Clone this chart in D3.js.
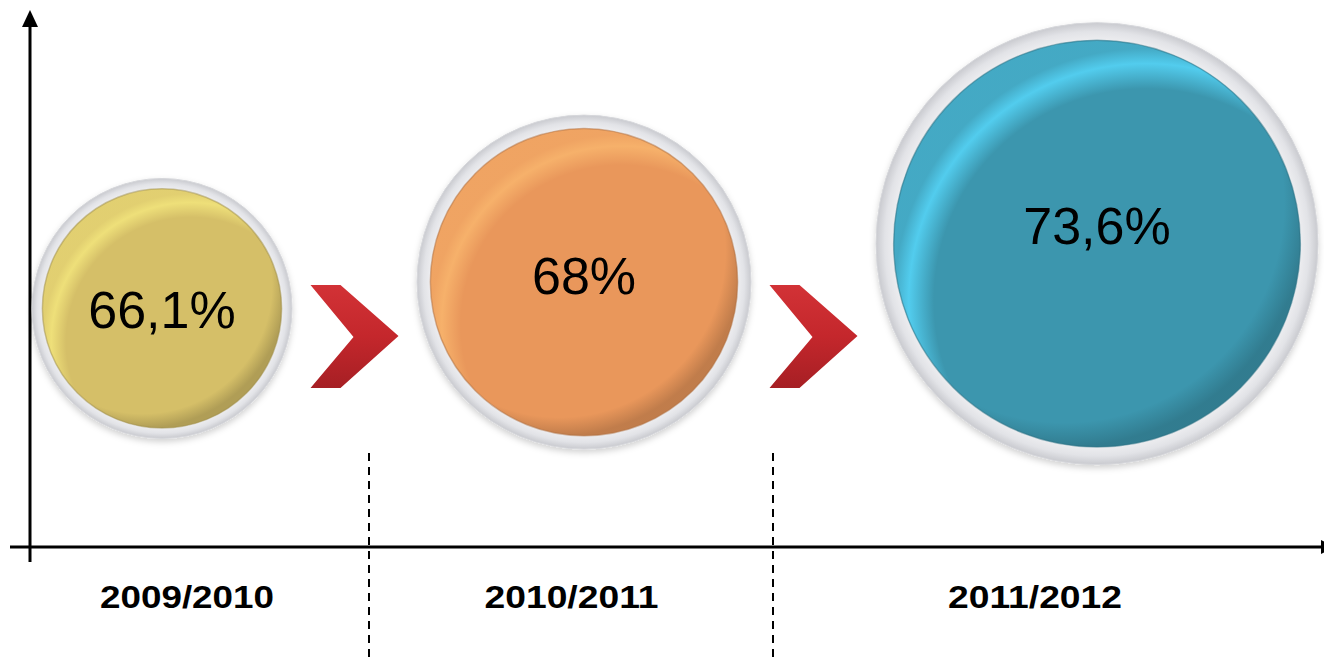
<!DOCTYPE html>
<html>
<head>
<meta charset="utf-8">
<script src="https://cdnjs.cloudflare.com/ajax/libs/d3/7.8.5/d3.min.js"></script>
<style>
  html, body { margin: 0; padding: 0; background: #fff; }
  svg { display: block; }
</style>
</head>
<body>
<div id="chart"></div>
<script>
// data
const periods = ["2009/2010", "2010/2011", "2011/2012"];
const rates = [66.1, 68, 73.6];
const rateLabels = ["66,1%", "68%", "73,6%"];
const bubbleColors = ["#d5bf68", "#e9975b", "#3c96ae"];

const width = 1324, height = 657;
const axisY = 547, axisX = 30;
const font = "'Liberation Sans', Arial, sans-serif";

const svg = d3.select("#chart")
  .append("svg")
  .attr("width", width)
  .attr("height", height);

const defs = svg.append("defs");

// period bands along the bottom (uneven, like the original slide)
const xBand = d3.scaleLinear()
  .domain([0, 1, 2, 3])
  .range([4, 369, 773, 1296]);

// bubble size: exaggerated, piecewise over the three values
const rScale = d3.scaleLinear()
  .domain(rates)
  .range([130, 167, 221]);

// layout bubbles left to right from their sizes
const gap = 125;
let cursor = 32;
const bubbles = rates.map((v, i) => {
  const r = rScale(v);
  const cx = cursor + r;
  cursor = cx + r + gap;
  return {
    period: periods[i],
    value: v,
    label: rateLabels[i],
    color: bubbleColors[i],
    r: r,
    cx: cx,
    cy: 401 - 0.712 * r
  };
});

// ---------- gradients ----------
const ring = defs.append("radialGradient").attr("id", "ring");
ring.append("stop").attr("offset", "0%").attr("stop-color", "#f5f5f7");
ring.append("stop").attr("offset", "90%").attr("stop-color", "#f2f2f4");
ring.append("stop").attr("offset", "96%").attr("stop-color", "#e2e3e7");
ring.append("stop").attr("offset", "100%").attr("stop-color", "#c9cacf");

const shadow = defs.append("filter").attr("id", "shadow")
  .attr("x", "-20%").attr("y", "-20%").attr("width", "140%").attr("height", "140%");
shadow.append("feDropShadow")
  .attr("dx", 0).attr("dy", 3).attr("stdDeviation", 3)
  .attr("flood-color", "#000").attr("flood-opacity", 0.18);

bubbles.forEach((b, i) => {
  const hl = d3.color(b.color).brighter(i === 2 ? 1 : 0.7).formatHex();
  const dk = d3.color(b.color).darker(1.2).formatHex();

  const g1 = defs.append("radialGradient").attr("id", "hl" + i)
    .attr("cx", 0.62).attr("cy", 0.64).attr("r", 0.62);
  g1.append("stop").attr("offset", "0%").attr("stop-color", hl).attr("stop-opacity", 0);
  g1.append("stop").attr("offset", "84%").attr("stop-color", hl).attr("stop-opacity", 0);
  g1.append("stop").attr("offset", "94%").attr("stop-color", hl).attr("stop-opacity", i === 2 ? 0.85 : 0.6);
  g1.append("stop").attr("offset", "100%").attr("stop-color", hl).attr("stop-opacity", 0.3);

  const g2 = defs.append("radialGradient").attr("id", "dk" + i)
    .attr("cx", 0.42).attr("cy", 0.4).attr("r", 0.6);
  g2.append("stop").attr("offset", "0%").attr("stop-color", dk).attr("stop-opacity", 0);
  g2.append("stop").attr("offset", "90%").attr("stop-color", dk).attr("stop-opacity", 0);
  g2.append("stop").attr("offset", "100%").attr("stop-color", dk).attr("stop-opacity", 0.5);
});

const chev = defs.append("linearGradient").attr("id", "chev")
  .attr("x1", 0).attr("y1", 0).attr("x2", 0).attr("y2", 1);
chev.append("stop").attr("offset", "0%").attr("stop-color", "#d23236");
chev.append("stop").attr("offset", "50%").attr("stop-color", "#c4272c");
chev.append("stop").attr("offset", "100%").attr("stop-color", "#a61f24");

// ---------- axes ----------
// period labels
svg.append("g")
  .attr("class", "x-axis")
  .attr("transform", `translate(0,${axisY})`)
  .call(d3.axisBottom(xBand)
    .tickValues(periods.map((d, i) => i + 0.5))
    .tickFormat((d, i) => periods[i])
    .tickSize(0)
    .tickPadding(38))
  .call(g => g.select(".domain").remove())
  .selectAll("text")
  .attr("font-family", font)
  .attr("font-size", 32)
  .attr("font-weight", "bold")
  .attr("textLength", 174)
  .attr("lengthAdjust", "spacingAndGlyphs")
  .attr("fill", "#000");

// dashed dividers between periods
svg.selectAll(".divider")
  .data([1, 2])
  .enter()
  .append("line")
  .attr("class", "divider")
  .attr("x1", d => xBand(d))
  .attr("x2", d => xBand(d))
  .attr("y1", 453)
  .attr("y2", height)
  .attr("stroke", "#000")
  .attr("stroke-width", 2)
  .attr("stroke-dasharray", "8,6");

// axis lines with arrow heads
svg.append("line")
  .attr("x1", axisX).attr("x2", axisX)
  .attr("y1", 24).attr("y2", 562)
  .attr("stroke", "#000").attr("stroke-width", 3);
svg.append("path")
  .attr("d", `M${axisX},10 L${axisX + 8},27 L${axisX - 8},27 Z`)
  .attr("fill", "#000");

svg.append("line")
  .attr("x1", 10).attr("x2", 1321)
  .attr("y1", axisY).attr("y2", axisY)
  .attr("stroke", "#000").attr("stroke-width", 3);
svg.append("path")
  .attr("d", `M1321,${axisY - 7} L1336,${axisY} L1321,${axisY + 7} Z`)
  .attr("fill", "#000");

// ---------- chevrons between bubbles ----------
const chevrons = d3.pairs(bubbles).map(([a, b]) => ({
  x: ((a.cx + a.r) + (b.cx - b.r)) / 2,
  y: 337
}));

svg.selectAll(".chevron")
  .data(chevrons)
  .enter()
  .append("path")
  .attr("class", "chevron")
  .attr("transform", d => `translate(${d.x},${d.y})`)
  .attr("d", "M-44,-52 L-14,-52 L44,-1 L-14,51 L-44,51 L-1,0 Z")
  .attr("fill", "url(#chev)");

// ---------- bubbles ----------
const bubble = svg.selectAll(".bubble")
  .data(bubbles)
  .enter()
  .append("g")
  .attr("class", "bubble")
  .attr("transform", d => `translate(${d.cx},${d.cy})`);

bubble.append("circle")
  .attr("r", d => d.r)
  .attr("fill", "url(#ring)")
  .attr("stroke", "#d6d7db")
  .attr("stroke-width", 1)
  .attr("filter", "url(#shadow)");

bubble.append("circle")
  .attr("r", d => d.r * 0.92)
  .attr("fill", d => d.color);

bubble.append("circle")
  .attr("r", d => d.r * 0.92)
  .attr("fill", (d, i) => `url(#hl${i})`);

bubble.append("circle")
  .attr("r", d => d.r * 0.92)
  .attr("fill", (d, i) => `url(#dk${i})`)
  .attr("stroke", d => d3.color(d.color).darker(0.8))
  .attr("stroke-opacity", 0.5)
  .attr("stroke-width", 1.5);

bubble.append("text")
  .attr("text-anchor", "middle")
  .attr("y", d => 47 - 0.21 * d.r)
  .attr("font-family", font)
  .attr("font-size", 52)
  .attr("fill", "#000")
  .text(d => d.label);
</script>
</body>
</html>
